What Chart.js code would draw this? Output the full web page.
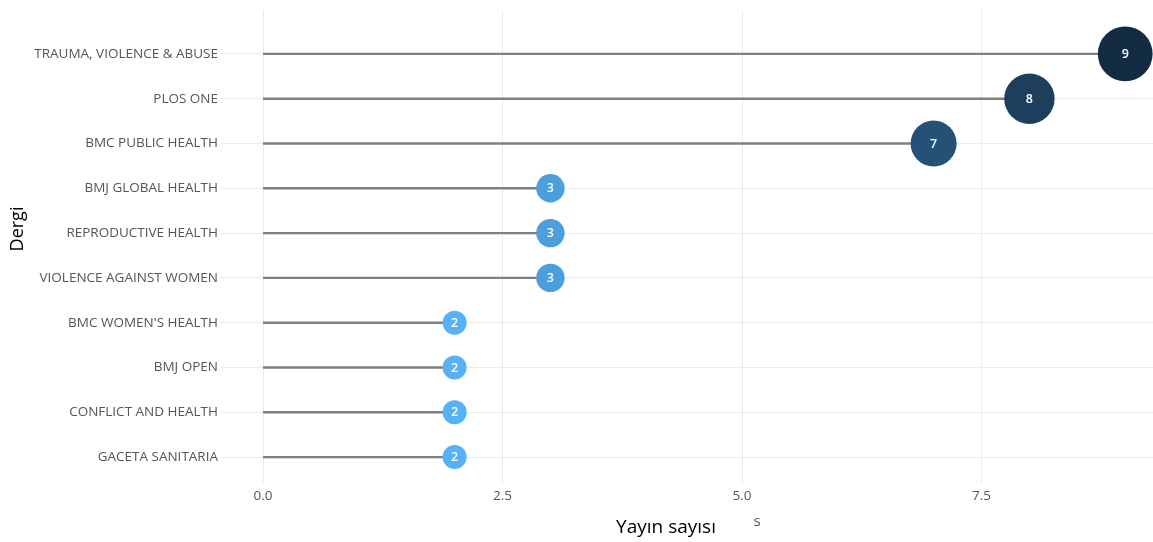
<!DOCTYPE html>
<html lang="tr">
<head>
    <meta charset="UTF-8">
    <title>Dergi - Yayın sayısı</title>
    <script src="https://cdn.jsdelivr.net/npm/chart.js"></script>
    <style>
        html, body { margin: 0; padding: 0; background: #fff; }
        #wrap { width: 1153px; height: 542px; }
    </style>
</head>
<body>
    <div id="wrap"><canvas id="chart"></canvas></div>

    <script>
        // journals, top to bottom
        const journals = [
            "TRAUMA, VIOLENCE & ABUSE",
            "PLOS ONE",
            "BMC PUBLIC HEALTH",
            "BMJ GLOBAL HEALTH",
            "REPRODUCTIVE HEALTH",
            "VIOLENCE AGAINST WOMEN",
            "BMC WOMEN'S HEALTH",
            "BMJ OPEN",
            "CONFLICT AND HEALTH",
            "GACETA SANITARIA"
        ];
        const counts = [9, 8, 7, 3, 3, 3, 2, 2, 2, 2];
        const xTicks = [0, 2.5, 5, 7.5];

        const FONT = "'Open Sans', 'Noto Sans', sans-serif";
        const LOW = [86, 177, 247];   // #56B1F7
        const HIGH = [19, 43, 67];    // #132B43
        const minC = Math.min(...counts), maxC = Math.max(...counts);

        function colorFor(v) {
            const t = (v - minC) / (maxC - minC);
            const c = LOW.map((lo, i) => Math.round(lo + (HIGH[i] - lo) * t));
            return `rgb(${c[0]},${c[1]},${c[2]})`;
        }
        function radiusFor(v) {
            return 7.6 + 2.2 * v;
        }

        // stems: 0 -> value, broken with gaps
        const stems = [];
        counts.forEach((v, i) => {
            stems.push({ x: 0, y: i }, { x: v, y: i }, { x: null, y: null });
        });
        const dots = counts.map((v, i) => ({ x: v, y: i }));

        const dotLabels = {
            id: 'dotLabels',
            afterDatasetsDraw(chart) {
                const ctx = chart.ctx;
                const meta = chart.getDatasetMeta(1);
                ctx.save();
                ctx.fillStyle = '#ffffff';
                ctx.font = `600 12.5px ${FONT}`;
                ctx.textAlign = 'center';
                ctx.textBaseline = 'middle';
                meta.data.forEach((pt, i) => {
                    ctx.fillText(String(counts[i]), pt.x, pt.y + 0.5);
                });
                ctx.restore();
            }
        };

        // axis titles sit off-centre in the original
        const axisTitles = {
            id: 'axisTitles',
            afterDraw(chart) {
                const ctx = chart.ctx;
                ctx.save();
                ctx.fillStyle = '#000000';
                ctx.font = `19px ${FONT}`;
                ctx.textAlign = 'center';
                ctx.textBaseline = 'middle';
                ctx.fillText('Yayın sayısı', 666, 528);
                ctx.fillStyle = '#555555';
                ctx.font = `15px ${FONT}`;
                ctx.fillText('s', 757, 522);
                ctx.translate(18, 229);
                ctx.rotate(-Math.PI / 2);
                ctx.fillStyle = '#000000';
                ctx.font = `18px ${FONT}`;
                ctx.fillText('Dergi', 0, 0);
                ctx.restore();
            }
        };

        new Chart(document.getElementById('chart'), {
            type: 'scatter',
            data: {
                datasets: [{
                    type: 'line',
                    data: stems,
                    borderColor: '#808080',
                    borderWidth: 2.4,
                    pointRadius: 0,
                    spanGaps: false,
                    order: 2
                }, {
                    data: dots,
                    pointRadius: ctx => radiusFor(counts[ctx.dataIndex]),
                    pointHoverRadius: ctx => radiusFor(counts[ctx.dataIndex]),
                    backgroundColor: ctx => colorFor(counts[ctx.dataIndex]),
                    borderColor: ctx => colorFor(counts[ctx.dataIndex]),
                    borderWidth: 0,
                    order: 1
                }]
            },
            options: {
                responsive: true,
                maintainAspectRatio: false,
                animation: false,
                layout: { autoPadding: false, padding: { top: 8, right: 0, left: 0, bottom: 0 } },
                plugins: {
                    legend: { display: false },
                    tooltip: { enabled: false }
                },
                scales: {
                    x: {
                        type: 'linear',
                        min: -0.449,
                        max: 9.29,
                        afterBuildTicks: s => { s.ticks = xTicks.map(v => ({ value: v })); },
                        afterFit: s => { s.height = 59; },
                        grid: { color: '#ebebeb', lineWidth: 1, drawTicks: false },
                        border: { display: false },
                        ticks: {
                            padding: 5,
                            color: '#555555',
                            font: { family: FONT, size: 13.5 },
                            callback: v => v.toFixed(1)
                        }
                    },
                    y: {
                        type: 'linear',
                        reverse: true,
                        min: -0.978,
                        max: 9.578,
                        afterBuildTicks: s => { s.ticks = journals.map((_, i) => ({ value: i })); },
                        afterFit: s => { s.width = 220; },
                        grid: { color: '#ebebeb', lineWidth: 1, drawTicks: false },
                        border: { display: false },
                        ticks: {
                            padding: 2,
                            color: '#555555',
                            font: { family: FONT, size: 13.5 },
                            callback: v => journals[v]
                        }
                    }
                }
            },
            plugins: [dotLabels, axisTitles]
        });
    </script>
</body>
</html>
